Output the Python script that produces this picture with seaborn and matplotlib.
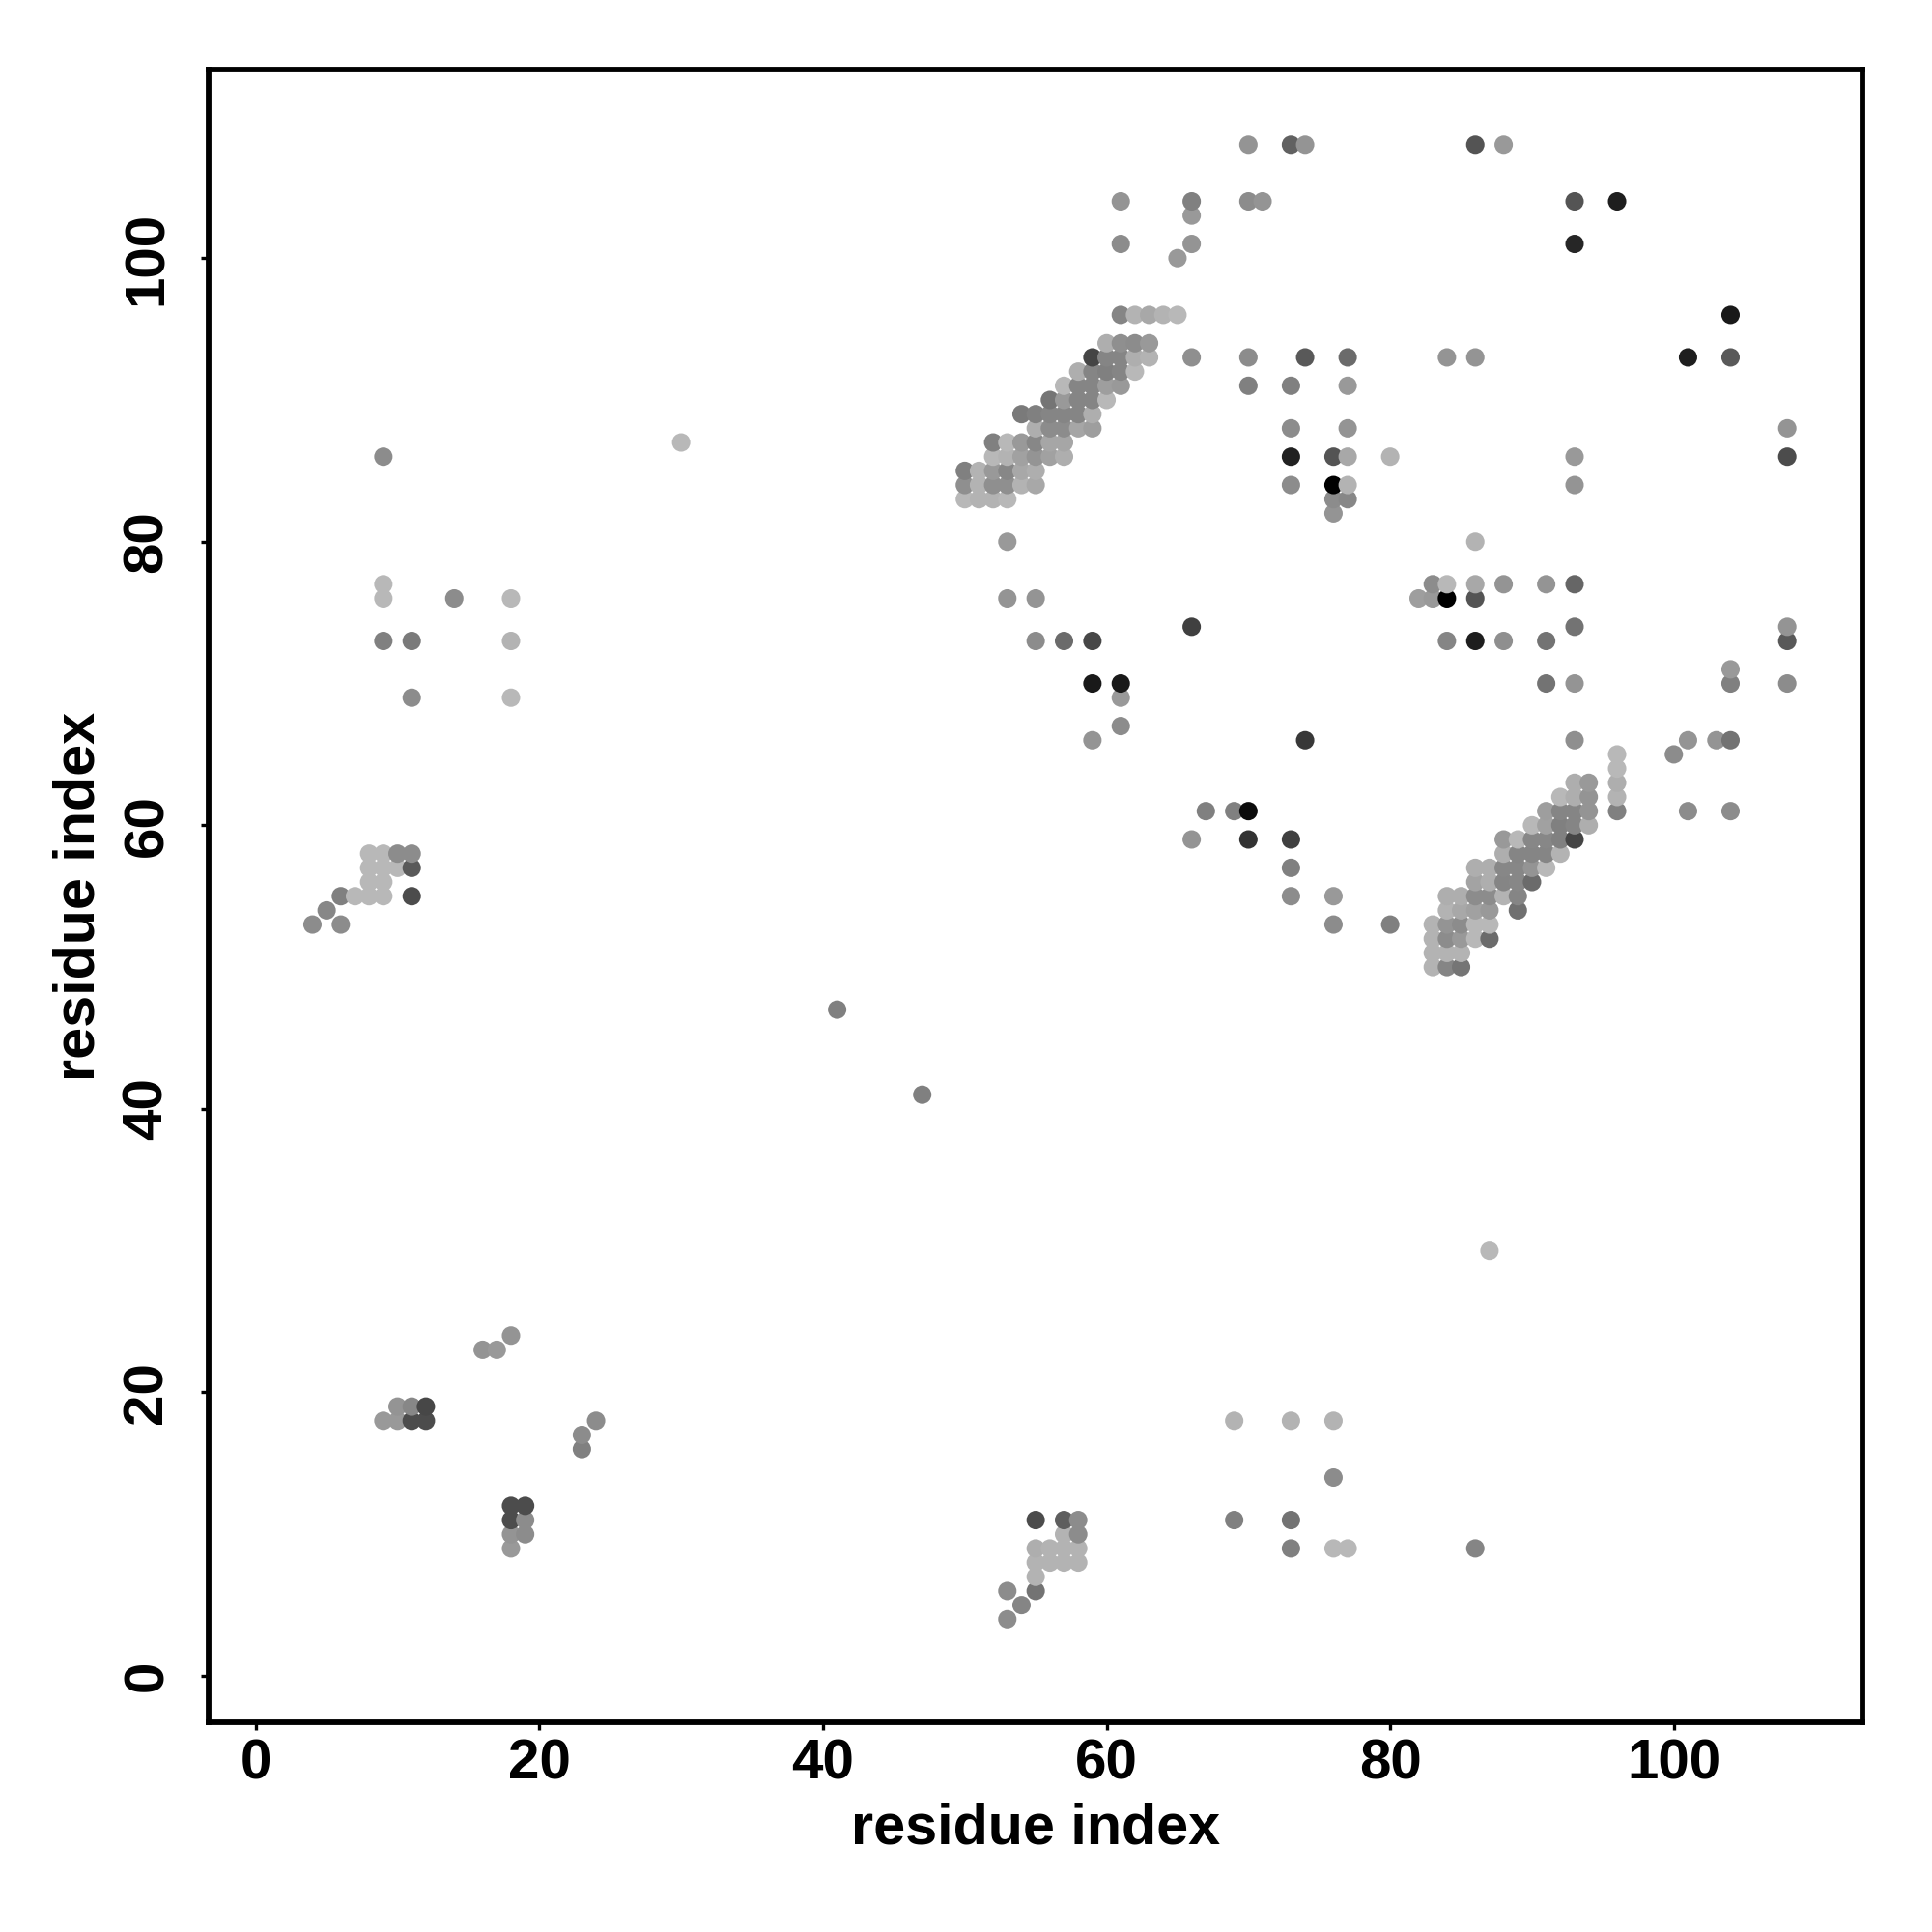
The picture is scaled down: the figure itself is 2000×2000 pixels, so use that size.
import matplotlib
matplotlib.use("Agg")
import matplotlib.pyplot as plt
import pandas as pd
import seaborn as sns

# contact map points, one line per y level (top to bottom): x, y, grey level (0 black, 1 white)
res_x = [
    70, 73, 74, 86, 88,
    61, 66, 70, 71, 93, 96,
    66,
    61, 66, 93,
    65,
    61, 62, 63, 64, 65, 104,
    60, 61, 62, 63,
    59, 60, 61, 62, 63, 66, 70, 74, 77, 84, 86, 101, 104,
    58, 59, 60, 61, 62,
    57, 58, 59, 60, 61, 70, 73, 77,
    56, 57, 58, 59, 60,
    54, 55, 56, 57, 58, 59,
    55, 56, 57, 58, 59, 73, 77, 108,
    30, 52, 53, 54, 55, 56, 57,
    9, 52, 53, 54, 55, 56, 57, 73, 76, 77, 80, 93, 108,
    50, 51, 52, 53, 54, 55,
    50, 51, 52, 53, 54, 55, 73, 76, 77, 93,
    50, 51, 52, 53, 76, 77,
    76,
    53, 86,
    9, 83, 84, 86, 88, 91, 93,
    9, 14, 18, 53, 55, 82, 83, 84, 86,
    66, 93, 108,
    9, 11, 18, 55, 57, 59, 84, 86, 88, 91, 108,
    104,
    59, 61, 91, 93, 104, 108,
    11, 18, 61,
    61,
    59, 74, 93, 101, 103, 104,
    96, 100,
    96,
    93, 94, 96,
    92, 93, 94, 96,
    67, 69, 70, 91, 92, 93, 94, 96, 101, 104,
    90, 91, 92, 93, 94,
    66, 70, 73, 88, 89, 90, 91, 92, 93,
    8, 9, 10, 11, 88, 89, 90, 91, 92,
    8, 9, 10, 11, 73, 86, 87, 88, 89, 90, 91,
    8, 9, 86, 87, 88, 89, 90,
    6, 7, 8, 9, 11, 73, 76, 84, 85, 86, 87, 88, 89,
    5, 84, 85, 86, 87, 89,
    4, 6, 76, 80, 83, 84, 85, 86, 87,
    83, 84, 85, 86, 87,
    83, 84, 85,
    83, 84, 85,
    41,
    47,
    87,
    18,
    16, 17,
    10, 11, 12,
    9, 10, 11, 12, 24, 69, 73, 76,
    23,
    23,
    76,
    18, 19,
    18, 19, 55, 57, 58, 69, 73,
    18, 19, 57, 58,
    18, 55, 56, 57, 58, 73, 76, 77, 86,
    55, 56, 57, 58,
    55,
    53, 55,
    54,
    53,
]
res_y = [
    108, 108, 108, 108, 108,
    104, 104, 104, 104, 104, 104,
    103,
    101, 101, 101,
    100,
    96, 96, 96, 96, 96, 96,
    94, 94, 94, 94,
    93, 93, 93, 93, 93, 93, 93, 93, 93, 93, 93, 93, 93,
    92, 92, 92, 92, 92,
    91, 91, 91, 91, 91, 91, 91, 91,
    90, 90, 90, 90, 90,
    89, 89, 89, 89, 89, 89,
    88, 88, 88, 88, 88, 88, 88, 88,
    87, 87, 87, 87, 87, 87, 87,
    86, 86, 86, 86, 86, 86, 86, 86, 86, 86, 86, 86, 86,
    85, 85, 85, 85, 85, 85,
    84, 84, 84, 84, 84, 84, 84, 84, 84, 84,
    83, 83, 83, 83, 83, 83,
    82,
    80, 80,
    77, 77, 77, 77, 77, 77, 77,
    76, 76, 76, 76, 76, 76, 76, 76, 76,
    74, 74, 74,
    73, 73, 73, 73, 73, 73, 73, 73, 73, 73, 73,
    71,
    70, 70, 70, 70, 70, 70,
    69, 69, 69,
    67,
    66, 66, 66, 66, 66, 66,
    65, 65,
    64,
    63, 63, 63,
    62, 62, 62, 62,
    61, 61, 61, 61, 61, 61, 61, 61, 61, 61,
    60, 60, 60, 60, 60,
    59, 59, 59, 59, 59, 59, 59, 59, 59,
    58, 58, 58, 58, 58, 58, 58, 58, 58,
    57, 57, 57, 57, 57, 57, 57, 57, 57, 57, 57,
    56, 56, 56, 56, 56, 56, 56,
    55, 55, 55, 55, 55, 55, 55, 55, 55, 55, 55, 55, 55,
    54, 54, 54, 54, 54, 54,
    53, 53, 53, 53, 53, 53, 53, 53, 53,
    52, 52, 52, 52, 52,
    51, 51, 51,
    50, 50, 50,
    47,
    41,
    30,
    24,
    23, 23,
    19, 19, 19,
    18, 18, 18, 18, 18, 18, 18, 18,
    17,
    16,
    14,
    12, 12,
    11, 11, 11, 11, 11, 11, 11,
    10, 10, 10, 10,
    9, 9, 9, 9, 9, 9, 9, 9, 9,
    8, 8, 8, 8,
    7,
    6, 6,
    5,
    4,
]
res_grey = [
    .58, .38, .58, .33, .6,
    .58, .5, .55, .58, .33, .12,
    .6,
    .55, .58, .15,
    .6,
    .52, .7, .66, .7, .72, .1,
    .68, .56, .55, .6,
    .27, .52, .52, .68, .7, .56, .55, .35, .42, .58, .58, .12, .35,
    .68, .52, .5, .52, .72,
    .72, .52, .52, .62, .6, .5, .5, .6,
    .46, .6, .52, .52, .72,
    .48, .5, .52, .52, .52, .68,
    .68, .55, .55, .65, .62, .55, .58, .58,
    .72, .5, .72, .6, .53, .65, .65,
    .55, .72, .7, .63, .58, .63, .68, .13, .33, .66, .7, .6, .3,
    .5, .7, .6, .53, .66, .68,
    .56, .7, .56, .56, .7, .66, .55, 0, .7, .58,
    .72, .7, .7, .72, .55, .53,
    .58,
    .6, .7,
    .72, .55, .72, .66, .58, .58, .4,
    .72, .55, .72, .58, .58, .62, .6, 0, .33,
    .25, .45, .58,
    .5, .48, .7, .55, .42, .28, .52, .12, .56, .45, .35,
    .6,
    .1, .1, .45, .58, .5, .55,
    .55, .72, .6,
    .55,
    .58, .22, .56, .58, .58, .45,
    .72, .55,
    .72,
    .68, .6, .68,
    .72, .68, .58, .7,
    .5, .5, .05, .62, .52, .52, .58, .5, .55, .55,
    .72, .63, .5, .52, .68,
    .58, .2, .25, .6, .72, .53, .53, .5, .27,
    .72, .72, .55, .55, .68, .52, .52, .52, .7,
    .72, .72, .72, .35, .5, .68, .68, .53, .53, .58, .72,
    .72, .72, .64, .68, .52, .53, .42,
    .5, .72, .72, .72, .3, .55, .6, .68, .68, .55, .55, .7, .52,
    .53, .7, .66, .63, .6, .44,
    .55, .55, .55, .5, .7, .58, .55, .72, .72,
    .7, .55, .6, .72, .42,
    .7, .7, .7,
    .7, .52, .46,
    .5,
    .5,
    .72,
    .58,
    .58, .6,
    .58, .53, .28,
    .6, .6, .3, .3, .55, .7, .7, .7,
    .55,
    .5,
    .55,
    .3, .3,
    .3, .55, .3, .37, .55, .5, .45,
    .58, .55, .7, .55,
    .6, .68, .7, .7, .7, .5, .72, .72, .52,
    .7, .7, .7, .7,
    .7,
    .55, .45,
    .52,
    .55,
]
tick_values = [0, 20, 40, 60, 80, 100]
axis_label = "residue index"

sns.set_theme(style="white")
plt.rcParams["font.family"] = ["Liberation Sans", "DejaVu Sans"]
plt.rcParams["font.weight"] = "bold"

# later x (then later y) is drawn on top, same as in the original
points = pd.DataFrame({"x": res_x, "y": res_y, "grey": res_grey}).sort_values(["x", "y"])

fig = plt.figure(figsize=(10, 10), dpi=200)
ax = fig.add_axes([216 / 2000, 1 - 1783 / 2000, (1928 - 216) / 2000, (1783 - 72) / 2000])

sns.scatterplot(
    data=points, x="x", y="y", hue="grey", palette="gray", hue_norm=(0, 1),
    s=47, linewidth=0, legend=False, ax=ax,
)

ax.set_xlim(-3.32, 113.3)
ax.set_ylim(-3.27, 113.3)
ax.set_xticks(tick_values)
ax.set_yticks(tick_values)
ax.tick_params(axis="both", bottom=True, left=True, length=3, width=1.2, color="black",
               labelsize=21, labelcolor="black")
ax.tick_params(axis="x", pad=3)
ax.tick_params(axis="y", pad=10)
plt.setp(ax.get_yticklabels(), rotation=90, va="center")

for spine in ax.spines.values():
    spine.set_color("black")
    spine.set_linewidth(2.1)

ax.set_xlabel(axis_label, fontsize=21.4, fontweight="bold", color="black")
ax.set_ylabel(axis_label, fontsize=21.4, fontweight="bold", color="black")
ax.xaxis.set_label_coords(0.5, -0.0485)
ax.yaxis.set_label_coords(-0.062, 0.5)

fig.savefig("out.png", dpi=200)
